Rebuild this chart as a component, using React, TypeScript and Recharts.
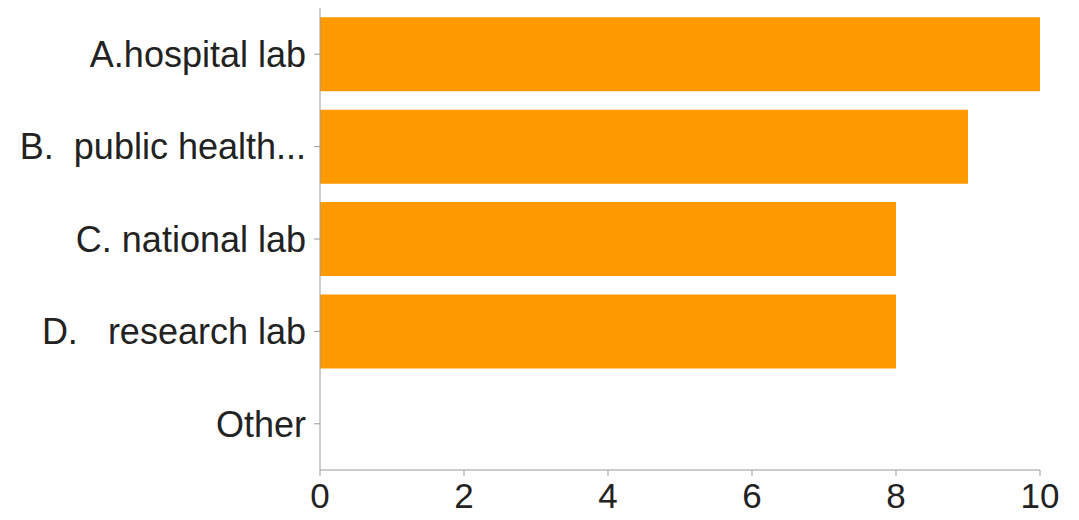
import { Bar, BarChart, XAxis, YAxis } from "recharts";

const categories = ["A.hospital lab", "B.  public health...", "C. national lab", "D.   research lab", "Other"];
const counts = [10, 9, 8, 8, 0];
const xTicks = [0, 2, 4, 6, 8, 10];

const chartData = categories.map((name, i) => ({ name, count: counts[i] }));

const FONT = "'Liberation Sans', Arial, Helvetica, sans-serif";

function CategoryTick(props: any) {
  const { x, y, payload } = props;
  return (
    <text
      x={x}
      y={y}
      dy="0.355em"
      textAnchor="end"
      fill="#222"
      fontSize={36}
      fontFamily={FONT}
      style={{ whiteSpace: "pre" }}
    >
      {payload.value}
    </text>
  );
}

export default function App() {
  return (
    <div style={{ margin: -8, width: 1079, height: 520, background: "#fff" }}>
      <BarChart
        width={1079}
        height={520}
        data={chartData}
        layout="vertical"
        barCategoryGap="10%"
        margin={{ top: 8, right: 39, left: 0, bottom: 0 }}
      >
        <XAxis
          type="number"
          domain={[0, 10]}
          ticks={xTicks}
          height={50}
          tickSize={6}
          tickMargin={7}
          stroke="#999"
          tick={{ fill: "#222", fontSize: 35, fontFamily: FONT }}
        />
        <YAxis
          type="category"
          dataKey="name"
          width={320}
          tickSize={6}
          tickMargin={8}
          stroke="#999"
          tick={<CategoryTick />}
          interval={0}
        />
        <Bar dataKey="count" fill="#FF9900" isAnimationActive={false} />
      </BarChart>
    </div>
  );
}
